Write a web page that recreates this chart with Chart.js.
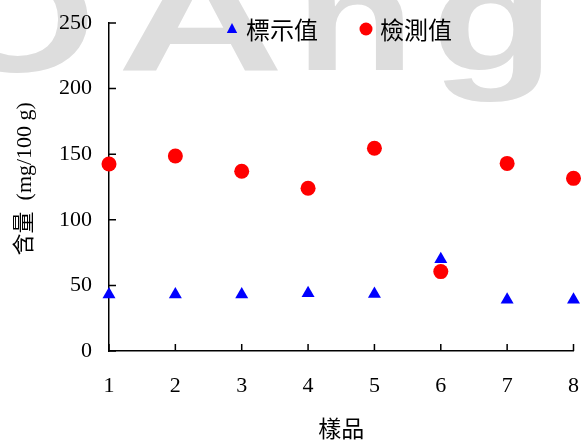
<!DOCTYPE html>
<html>
<head>
<meta charset="utf-8">
<script src="https://cdn.jsdelivr.net/npm/chart.js@4/dist/chart.umd.min.js"></script>
<style>
html,body{margin:0;padding:0;background:#fff;}
#wrap{width:581px;height:442px;position:relative;}
</style>
</head>
<body>
<div id="wrap"><canvas id="c"></canvas></div>
<script>
const categories = ['1','2','3','4','5','6','7','8'];
const labeledValues = [43, 43, 43, 44, 43.5, 70, 39, 39];      // 標示值
const measuredValues = [142.5, 148.6, 137, 124, 154.5, 60.5, 143, 131.6]; // 檢測值
const yTicks = [0, 50, 100, 150, 200, 250];
const seriesNames = ['標示值', '檢測值'];

const serif = '"Liberation Serif", "Noto Sans CJK TC", serif';
const cjk = '"Noto Sans CJK TC", "Liberation Serif", sans-serif';

const watermark = {
  id: 'watermark',
  beforeDraw(chart) {
    const ctx = chart.ctx;
    ctx.save();
    ctx.fillStyle = '#fff';
    ctx.fillRect(0, 0, chart.width, chart.height);
    ctx.fillStyle = '#dddddd';
    ctx.font = 'bold 150px "Liberation Sans", "DejaVu Sans", sans-serif';
    ctx.textBaseline = 'alphabetic';
    ctx.textAlign = 'left';
    const letter = (ch, x, w, base) => {
      const m = ctx.measureText(ch).width;
      ctx.save();
      ctx.translate(x, base);
      ctx.scale(w / m, 1);
      ctx.fillText(ch, 0, 0);
      ctx.restore();
    };
    letter('O', -60, 156, 72);
    letter('A', 117, 167, 70);
    letter('n', 295, 120, 70);
    letter('g', 431, 124, 70);
    ctx.restore();
  }
};

const innerTicks = {
  id: 'innerTicks',
  afterDraw(chart) {
    const ctx = chart.ctx;
    const xs = chart.scales.x, ys = chart.scales.y;
    const a = chart.chartArea;
    ctx.save();
    ctx.strokeStyle = '#000';
    ctx.lineWidth = 1.5;
    ctx.beginPath();
    yTicks.forEach(v => {
      const py = ys.getPixelForValue(v);
      ctx.moveTo(a.left, py);
      ctx.lineTo(a.left + 7, py);
    });
    categories.forEach((c, i) => {
      const px = xs.getPixelForTick(i);
      ctx.moveTo(px, a.bottom);
      ctx.lineTo(px, a.bottom - 7);
    });
    ctx.stroke();
    ctx.restore();
  }
};

const customLegend = {
  id: 'customLegend',
  afterDraw(chart) {
    const ctx = chart.ctx;
    ctx.save();
    const cy = 29;
    const d0 = chart.data.datasets[0];
    ctx.fillStyle = d0.backgroundColor;
    const r = 6;
    const tx = 232;
    ctx.beginPath();
    ctx.moveTo(tx, cy - r);
    ctx.lineTo(tx + r * 0.866, cy + r * 0.5 + 1);
    ctx.lineTo(tx - r * 0.866, cy + r * 0.5 + 1);
    ctx.closePath();
    ctx.fill();
    const d1 = chart.data.datasets[1];
    ctx.fillStyle = d1.backgroundColor;
    ctx.beginPath();
    ctx.arc(366, cy, 6.5, 0, Math.PI * 2);
    ctx.fill();
    ctx.fillStyle = '#000';
    ctx.font = '24px ' + cjk;
    ctx.textBaseline = 'middle';
    ctx.textAlign = 'left';
    ctx.fillText(d0.label, 246, cy + 1);
    ctx.fillText(d1.label, 380, cy + 1);
    ctx.restore();
  }
};

new Chart(document.getElementById('c'), {
  type: 'scatter',
  data: {
    labels: categories,
    datasets: [
      {
        label: seriesNames[0],
        data: labeledValues,
        pointStyle: 'triangle',
        pointRadius: 7.5,
        pointHoverRadius: 7.5,
        backgroundColor: '#0000ff',
        borderColor: '#0000ff',
        borderWidth: 0,
        showLine: false,
        clip: false
      },
      {
        label: seriesNames[1],
        data: measuredValues,
        pointStyle: 'circle',
        pointRadius: 7.5,
        pointHoverRadius: 7.5,
        backgroundColor: '#ff0000',
        borderColor: '#ff0000',
        borderWidth: 0,
        showLine: false,
        clip: false
      }
    ]
  },
  options: {
    responsive: true,
    maintainAspectRatio: false,
    animation: false,
    devicePixelRatio: 1,
    layout: { padding: { top: 23, right: 7, left: 0, bottom: 0 } },
    plugins: {
      legend: { display: false },
      tooltip: { enabled: false }
    },
    scales: {
      x: {
        type: 'category',
        labels: categories,
        offset: false,
        grid: { display: true, drawOnChartArea: false, drawTicks: true, tickLength: 22, tickColor: 'rgba(0,0,0,0)' },
        border: { display: true, color: '#000', width: 1.5 },
        ticks: { color: '#000', font: { family: serif, size: 22 }, padding: 0, maxRotation: 0, autoSkip: false },
        title: { display: true, text: '樣品', color: '#000', font: { family: cjk, size: 23 }, padding: { top: 0, bottom: 0 } },
        afterFit(s) { s.height = 91; }
      },
      y: {
        type: 'linear',
        min: 0,
        max: 250,
        afterBuildTicks(s) { s.ticks = yTicks.map(v => ({ value: v })); },
        grid: { display: true, drawOnChartArea: false, drawTicks: true, tickLength: 17, tickColor: 'rgba(0,0,0,0)' },
        border: { display: true, color: '#000', width: 1.5 },
        ticks: { color: '#000', font: { family: serif, size: 22 }, padding: 0 },
        title: { display: true, text: '   含量  (mg/100 g)', color: '#000', font: { family: serif, size: 22 }, padding: { top: 12, bottom: 0 } },
        afterFit(s) { s.width = 109; }
      }
    }
  },
  plugins: [watermark, innerTicks, customLegend]
});
</script>
</body>
</html>
